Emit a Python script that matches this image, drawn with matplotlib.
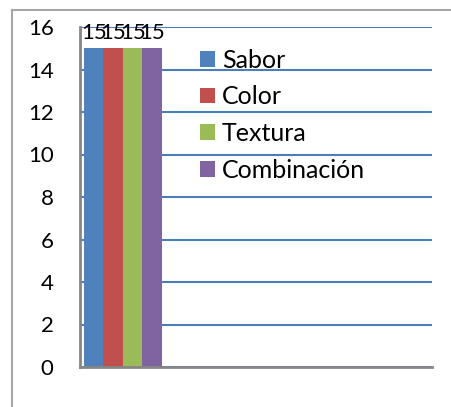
import matplotlib.pyplot as plt
from matplotlib.lines import Line2D

plt.rcParams['font.family'] = ['Lato', 'DejaVu Sans']

series = ['Sabor', 'Color', 'Textura', 'Combinación']
values = [15, 15, 15, 15]
colors = ['#4F81BD', '#C0504D', '#9BBB59', '#8064A2']
yticks = [0, 2, 4, 6, 8, 10, 12, 14, 16]

fig = plt.figure(figsize=(4.52, 4.07), dpi=100)
ax = fig.add_axes([80 / 452, 1 - 367 / 407, 352 / 452, 340 / 407])

# outer chart border (only left and top visible in the crop)
fig.add_artist(Line2D([11.5 / 452, 11.5 / 452], [0, 1 - 10 / 407], transform=fig.transFigure,
                      color='#a6a6a6', lw=1.5))
fig.add_artist(Line2D([11.5 / 452, 1], [1 - 10 / 407, 1 - 10 / 407], transform=fig.transFigure,
                      color='#a6a6a6', lw=1.5))

offsets = [-1.5, -0.5, 0.5, 1.5]
for name, v, c, off in zip(series, values, colors, offsets):
    bars = ax.bar(off, v, width=1.0, color=c, label=name, zorder=3)
    for b in bars:
        ax.annotate(str(v), (b.get_x() + b.get_width() / 2, b.get_height()),
                    xytext=(0, 4), textcoords='offset points', ha='center', va='bottom',
                    fontsize=16, color='black', zorder=4)

ax.set_xlim(-2.205, 15.85)
ax.set_ylim(0, 16)
ax.set_yticks(yticks)
ax.tick_params(axis='y', labelsize=16, length=0, pad=19)
ax.set_xticks([])
ax.grid(axis='y', color='#4A7EBB', lw=1.5, zorder=0)
for s in ['top', 'right']:
    ax.spines[s].set_visible(False)
for s in ['left', 'bottom']:
    ax.spines[s].set_color('#868686')
    ax.spines[s].set_linewidth(2)
    ax.spines[s].set_zorder(5)

leg = ax.legend(loc='upper left', bbox_to_anchor=(118 / 352, (367 - 46) / 340), frameon=True,
                fontsize=18, handlelength=0.6, handleheight=0.6, handletextpad=0.25,
                labelspacing=0.55, borderaxespad=0, borderpad=0.1)
leg.get_frame().set_facecolor('none')
leg.get_frame().set_edgecolor('none')

fig.savefig('out.png', dpi=100)
